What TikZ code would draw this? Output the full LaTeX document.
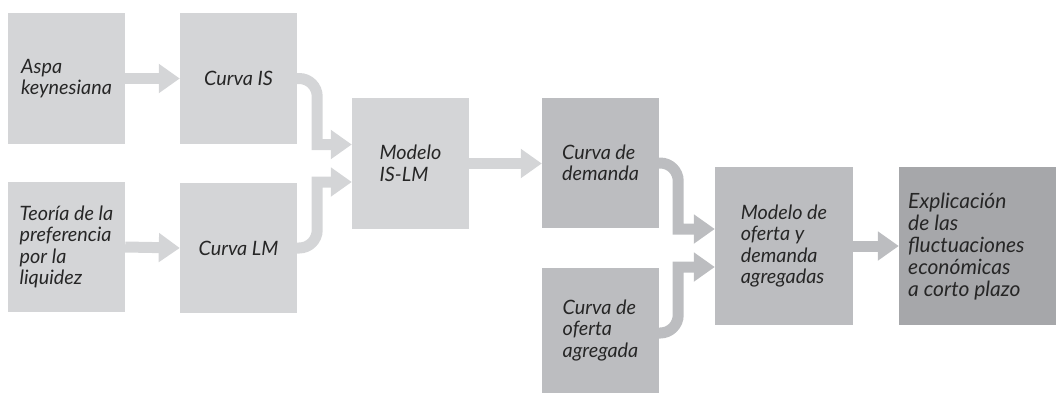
\documentclass[tikz,border=0pt]{standalone}
\usepackage{fontspec}
\setmainfont{Lato}
\usetikzlibrary{arrows.meta,calc}
\definecolor{lg}{HTML}{D4D5D7}
\definecolor{mg}{HTML}{BCBDC0}
\definecolor{dg}{HTML}{A6A7AA}
\tikzset{
  box/.style={fill=#1, draw=none, inner sep=0pt, align=left, text=black!85,
    font=\fontsize{19.8}{21.5}\selectfont\itshape},
  arr/.style={draw=#1, line width=11pt, -{Triangle[length=21pt,width=28pt]}},
}
\begin{document}
\begin{tikzpicture}[x=1pt,y=-1pt]
\useasboundingbox (0,0) rectangle (1056,394);
% boxes
\node[box=lg, minimum width=117pt, minimum height=131pt] (aspa) at (66.5,78.5) {Aspa\\keynesiana};
\node[box=lg, minimum width=117pt, minimum height=131pt] (is) at (238.5,78.5) {Curva IS};
\node[box=lg, minimum width=117pt, minimum height=130pt] (teo) at (66.5,247) {Teoría de la\\preferencia\\por la\\liquidez};
\node[box=lg, minimum width=117pt, minimum height=130pt] (lm) at (238.5,248) {Curva LM};
\node[box=lg, minimum width=117pt, minimum height=131pt] (islm) at (410.5,163.5) {Modelo\\IS-LM};
\node[box=mg, minimum width=117pt, minimum height=130pt] (dem) at (600.5,163) {Curva de\\demanda};
\node[box=mg, minimum width=117pt, minimum height=125pt] (ofe) at (600.5,330.5) {Curva de\\oferta\\agregada};
\node[box=mg, minimum width=138pt, minimum height=158pt] (mod) at (784,246) {Modelo de\\oferta y\\demanda\\agregadas};
\node[box=dg, minimum width=157pt, minimum height=158pt] (exp) at (977.5,246) {};
\node[box=dg, fill=none, anchor=west, font=\fontsize{21}{22}\selectfont\itshape] (exptext) at (908,247) {Explicación\\de las\\fluctuaciones\\económicas\\a corto plazo};
% entry points
\coordinate (islmA) at ($(islm.west)+(0,-19)$);
\coordinate (islmB) at ($(islm.west)+(0,18.5)$);
\coordinate (modA) at ($(mod.west)+(0,-17)$);
\coordinate (modB) at ($(mod.west)+(0,21)$);
% arrows
\draw[arr=lg] (aspa.east) -- (is.west);
\draw[arr=lg] (teo.east) -- (lm.west);
\draw[arr=lg] (is.east) [rounded corners=18pt] -- ++(20,0) [sharp corners] |- (islmA);
\draw[arr=lg] (lm.east) [rounded corners=18pt] -- ++(20,0) [sharp corners] |- (islmB);
\draw[arr=lg] (islm.east) -- (islm.east -| dem.west);
\draw[arr=mg] (dem.east) [rounded corners=18pt] -- ++(19,0) [sharp corners] |- (modA);
\draw[arr=mg] ($(ofe.east)+(0,2.5)$) [rounded corners=18pt] -- ++(19,0) [sharp corners] |- (modB);
\draw[arr=mg] (mod.east) -- (mod.east -| exp.west);
\end{tikzpicture}
\end{document}
